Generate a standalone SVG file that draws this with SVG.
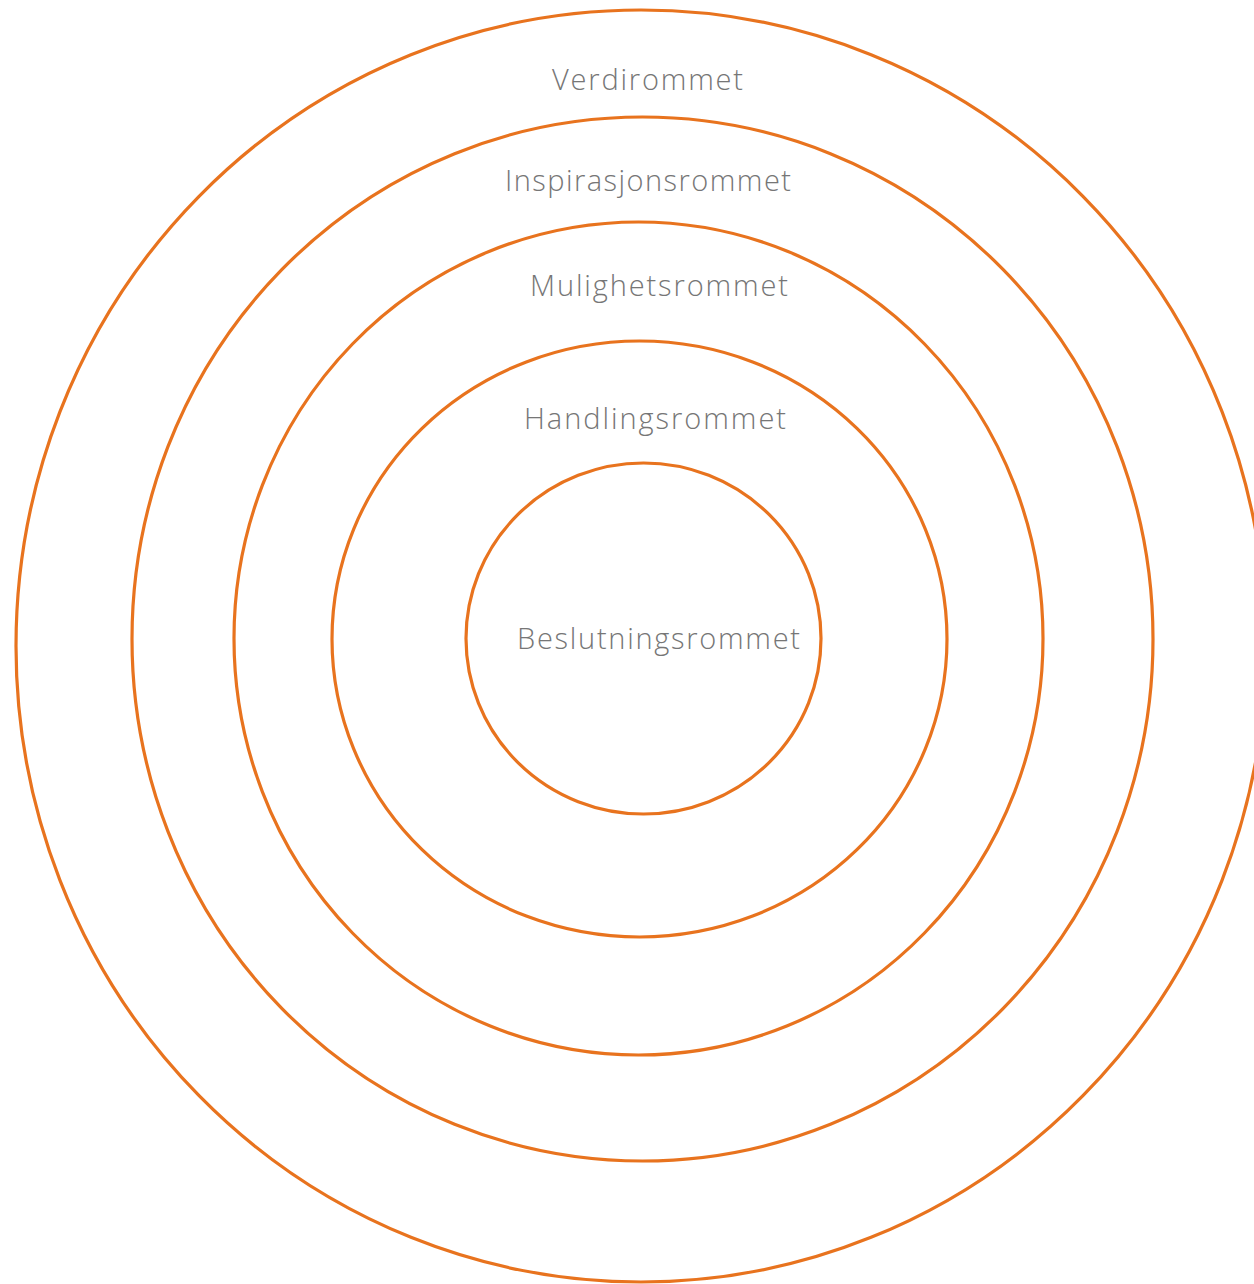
<svg xmlns="http://www.w3.org/2000/svg" width="1254" height="1284" viewBox="0 0 1254 1284">
<style>
.ring{fill:none;stroke:#E8731E;stroke-width:3.2}
.lbl{font-family:"Open Sans",Lato,"Liberation Sans",sans-serif;font-weight:300;font-size:29px;fill:#767676;text-anchor:middle}
</style>
<rect width="1254" height="1284" fill="#fff"/>
<g id="verdirommet"><ellipse class="ring" cx="641" cy="646" rx="625" ry="636"/><text class="lbl" x="647.5" y="90" textLength="191" lengthAdjust="spacing">Verdirommet</text></g>
<g id="inspirasjonsrommet"><ellipse class="ring" cx="642.5" cy="639" rx="510.5" ry="522"/><text class="lbl" x="648" y="191" textLength="286" lengthAdjust="spacing">Inspirasjonsrommet</text></g>
<g id="mulighetsrommet"><ellipse class="ring" cx="638.5" cy="638.5" rx="404.5" ry="416.5"/><text class="lbl" x="659" y="296" textLength="258" lengthAdjust="spacing">Mulighetsrommet</text></g>
<g id="handlingsrommet"><ellipse class="ring" cx="639.5" cy="639" rx="307.5" ry="298"/><text class="lbl" x="655" y="429" textLength="262" lengthAdjust="spacing">Handlingsrommet</text></g>
<g id="beslutningsrommet"><ellipse class="ring" cx="643.5" cy="638.5" rx="177.5" ry="175.5"/><text class="lbl" x="658.5" y="649" textLength="283" lengthAdjust="spacing">Beslutningsrommet</text></g>
<g id="connectors"/>
</svg>
